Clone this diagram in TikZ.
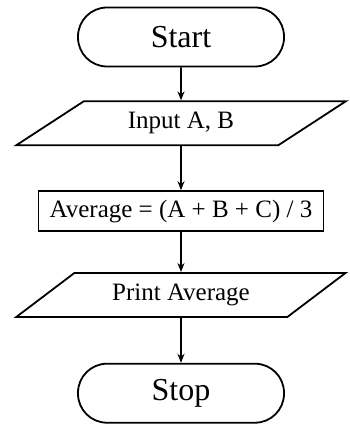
\documentclass[tikz,border=0pt]{standalone}
\usepackage{fontspec}
\setmainfont{Liberation Serif}
\usetikzlibrary{positioning,arrows.meta,shapes.geometric}

\begin{document}
\begin{tikzpicture}[
      x=1pt, y=1pt,
      line width=1.8pt,
      term/.style={draw, rounded corners=29pt, minimum width=206pt,
                   minimum height=59pt, font=\fontsize{32}{36}\selectfont},
      io/.style={draw, trapezium, trapezium left angle=36, trapezium right angle=144,
                 trapezium stretches=true, minimum width=330pt, minimum height=44pt,
                 font=\fontsize{25}{30}\selectfont},
      proc/.style={draw, minimum width=285pt, minimum height=40pt,
                   font=\fontsize{25}{30}\selectfont},
      >={Stealth[length=9pt, width=7pt]}]
    \useasboundingbox (0,0) rectangle (350,428);
    \node[term] (start) at (181,391) {Start};
    \node[io, below=33pt of start] (input) {Input A, B};
    \node[proc, below=44pt of input] (avg) {Average = (A + B + C) / 3};
    \node[io, below=40pt of avg] (print) {Print Average};
    \node[term, below=45pt of print] (stop) {Stop};
    \draw[->] (start) -- (input);
    \draw[->] (input) -- (avg);
    \draw[->] (avg) -- (print);
    \draw[->] (print) -- (stop);
  \end{tikzpicture}
\end{document}
